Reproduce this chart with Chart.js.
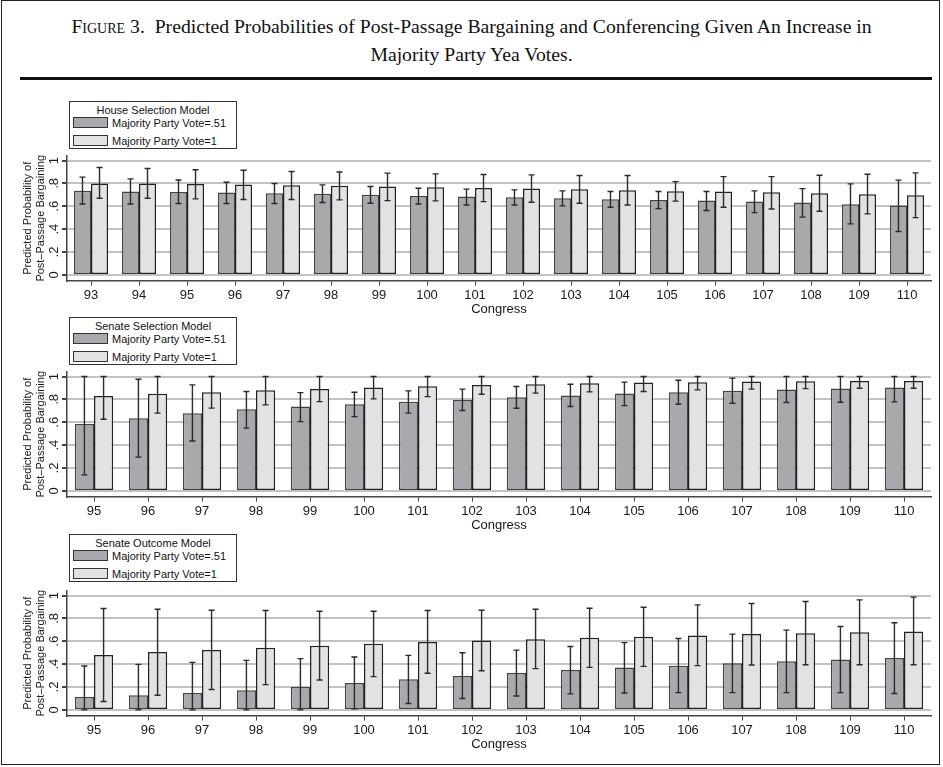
<!DOCTYPE html>
<html>
<head>
<meta charset="utf-8">
<script src="https://cdn.jsdelivr.net/npm/chart.js@4/dist/chart.umd.min.js"></script>
<style>
  html, body { margin: 0; padding: 0; background: #fff; }
  body { width: 943px; height: 767px; position: relative; overflow: hidden; font-family: "Liberation Sans", Arial, sans-serif; }
  .frame { position: absolute; left: 1px; top: 0px; width: 939px; height: 765px; border: 1px solid #222; box-sizing: border-box; }
  .title { position: absolute; left: 0; top: 12px; width: 943px; text-align: center; font-family: "Liberation Serif", "Times New Roman", serif; font-size: 19.7px; line-height: 28px; color: #111; }
  .title .sc { font-variant: small-caps; }
  .rule { position: absolute; left: 20px; top: 77px; width: 912px; height: 3px; background: #111; }
  canvas { position: absolute; left: 0; }
  .legend { position: absolute; left: 69px; width: 168px; height: 48px; border: 1px solid #333; box-sizing: border-box; background: #fff; font-size: 11px; color: #111; z-index: 2; }
  .legend .lt { position: absolute; left: 0; width: 100%; top: 2px; text-align: center; line-height: 13px; }
  .legend .item { position: absolute; left: 3px; height: 13px; line-height: 13px; white-space: nowrap; }
  .legend .sw { display: inline-block; width: 33px; height: 9px; border: 1px solid #333; vertical-align: -1px; margin-right: 4px; }
</style>
</head>
<body>
<div class="frame"></div>
<div class="title"><span class="sc">Figure</span> 3.&nbsp; Predicted Probabilities of Post-Passage Bargaining and Conferencing Given An Increase in<br>Majority Party Yea Votes.</div>
<div class="rule"></div>

<canvas id="house" width="943" height="170" style="top:150px;width:943px;height:170px"></canvas>
<canvas id="senateSel" width="943" height="170" style="top:366px;width:943px;height:170px"></canvas>
<canvas id="senateOut" width="943" height="170" style="top:585px;width:943px;height:170px"></canvas>

<div id="legends"></div>

<script>
// Congress numbers on the x axes
const houseCongresses = ['93','94','95','96','97','98','99','100','101','102','103','104','105','106','107','108','109','110'];
const senateCongresses = ['95','96','97','98','99','100','101','102','103','104','105','106','107','108','109','110'];

// Y axis ticks
const yTickValues = [0, 0.2, 0.4, 0.6, 0.8, 1];
const yTickLabels = ['0', '.2', '.4', '.6', '.8', '1'];

// Series names
const seriesNames = ['Majority Party Vote=.51', 'Majority Party Vote=1'];
const panelTitles = ['House Selection Model', 'Senate Selection Model', 'Senate Outcome Model'];

// House Selection Model: predicted probability with lower/upper bounds
const houseLowProb  = [.737,.730,.725,.720,.715,.709,.700,.690,.685,.680,.671,.662,.656,.650,.641,.633,.618,.606];
const houseLowLo    = [.620,.620,.625,.625,.625,.633,.627,.620,.612,.612,.604,.592,.580,.563,.545,.505,.446,.379];
const houseLowHi    = [.855,.840,.830,.810,.800,.787,.773,.758,.750,.744,.735,.729,.729,.729,.735,.755,.796,.829];
const houseHighProb = [.800,.800,.795,.790,.785,.780,.773,.767,.761,.755,.750,.741,.732,.729,.723,.715,.706,.697];
const houseHighLo   = [.670,.670,.665,.660,.660,.656,.650,.647,.641,.636,.627,.612,.645,.592,.577,.557,.534,.501];
const houseHighHi   = [.940,.930,.920,.915,.905,.900,.890,.884,.878,.875,.869,.869,.816,.860,.860,.872,.881,.892];

// Senate Selection Model
const selLowProb  = [.586,.636,.680,.715,.738,.758,.779,.796,.820,.834,.851,.863,.875,.886,.895,.904];
const selLowLo    = [.140,.295,.437,.549,.606,.650,.680,.703,.723,.738,.746,.758,.767,.773,.776,.779];
const selLowHi    = [1.00,.977,.927,.869,.860,.863,.875,.890,.913,.933,.951,.968,.986,1.00,1.00,1.00];
const selHighProb = [.831,.849,.863,.881,.892,.904,.915,.927,.933,.942,.948,.951,.956,.959,.962,.962];
const selHighLo   = [.627,.680,.724,.752,.781,.805,.825,.846,.855,.866,.869,.884,.890,.895,.898,.898];
const selHighHi   = [1.00,1.00,1.00,1.00,1.00,1.00,1.00,1.00,1.00,1.00,1.00,1.00,1.00,1.00,1.00,1.00];

// Senate Outcome Model
const outLowProb  = [.113,.128,.148,.172,.201,.235,.268,.297,.323,.349,.370,.387,.407,.425,.440,.453];
const outLowLo    = [0,0,0,0,0,.009,.056,.099,.122,.140,.148,.151,.151,.151,.151,.143];
const outLowHi    = [.384,.398,.416,.433,.448,.462,.477,.500,.523,.555,.588,.625,.663,.698,.730,.762];
const outHighProb = [.480,.506,.523,.544,.561,.579,.593,.608,.619,.631,.640,.651,.663,.671,.680,.686];
const outHighLo   = [.073,.128,.178,.221,.262,.291,.320,.343,.361,.372,.381,.387,.392,.395,.395,.395];
const outHighHi   = [.887,.881,.872,.869,.863,.863,.869,.872,.881,.889,.898,.919,.930,.948,.962,.986];

const DARK_FILL = '#a8a9ac';
const LIGHT_FILL = '#e1e2e4';
const SANS = '"Liberation Sans", Arial, sans-serif';

Chart.defaults.font.family = SANS;
Chart.defaults.color = '#1a1a1a';

// Draws confidence intervals over each bar using the y scale
const errorBars = {
  id: 'errorBars',
  afterDatasetsDraw(chart) {
    const ctx = chart.ctx;
    const y = chart.scales.y;
    chart.data.datasets.forEach((ds, di) => {
      const meta = chart.getDatasetMeta(di);
      meta.data.forEach((bar, i) => {
        const x = bar.x;
        const yl = y.getPixelForValue(ds.errLo[i]);
        const yh = y.getPixelForValue(ds.errHi[i]);
        ctx.save();
        ctx.strokeStyle = '#2a2a2a';
        ctx.lineWidth = 1.4;
        ctx.beginPath();
        ctx.moveTo(x, yl); ctx.lineTo(x, yh);
        ctx.moveTo(x - 3, yl); ctx.lineTo(x + 3, yl);
        ctx.moveTo(x - 3, yh); ctx.lineTo(x + 3, yh);
        ctx.stroke();
        ctx.restore();
      });
    });
  }
};

function makePanel(id, labels, lowProb, lowLo, lowHi, highProb, highLo, highHi) {
  new Chart(document.getElementById(id), {
    type: 'bar',
    data: {
      labels: labels,
      datasets: [
        { label: seriesNames[0], data: lowProb, errLo: lowLo, errHi: lowHi,
          backgroundColor: DARK_FILL, borderColor: '#444', borderWidth: 1.5, borderSkipped: false },
        { label: seriesNames[1], data: highProb, errLo: highLo, errHi: highHi,
          backgroundColor: LIGHT_FILL, borderColor: '#222', borderWidth: 1.5, borderSkipped: false }
      ]
    },
    options: {
      responsive: false,
      animation: false,
      devicePixelRatio: 1,
      layout: { padding: { top: 6, right: 12, left: 0, bottom: 0 } },
      datasets: { bar: { categoryPercentage: 0.71, barPercentage: 1 } },
      plugins: { legend: { display: false }, tooltip: { enabled: false } },
      scales: {
        x: {
          grid: { display: true, drawOnChartArea: false, drawTicks: true, tickLength: 5, tickColor: '#444', offset: false },
          border: { color: '#444', width: 1.5 },
          ticks: { font: { size: 13 }, color: '#1a1a1a', padding: 2, maxRotation: 0, autoSkip: false },
          title: { display: true, text: 'Congress', font: { size: 13 }, color: '#1a1a1a', padding: { top: 0, bottom: 3 } },
          afterFit: s => { s.height = 39.4; s.paddingLeft = 0; s.paddingRight = 0; }
        },
        y: {
          min: -0.05,
          max: 1.04,
          afterBuildTicks: s => { s.ticks = yTickValues.map(v => ({ value: v })); },
          grid: { color: '#c2c2c2', lineWidth: 2, tickColor: '#444', tickLength: 5 },
          border: { color: '#444', width: 1.5 },
          ticks: { minRotation: 90, maxRotation: 90, crossAlign: 'center', padding: 2,
                   font: { size: 13 }, color: '#1a1a1a',
                   callback: (v, i) => yTickLabels[i] },
          title: { display: true, text: ['Predicted Probability of', 'Post\u2013Passage Bargaining'],
                   font: { size: 11, lineHeight: 1.23 }, color: '#1a1a1a', padding: { top: 21, bottom: 0 } },
          afterFit: s => { s.width = 67; s.paddingTop = 0; s.paddingBottom = 0; }
        }
      }
    },
    plugins: [errorBars]
  });
}

makePanel('house', houseCongresses, houseLowProb, houseLowLo, houseLowHi, houseHighProb, houseHighLo, houseHighHi);
makePanel('senateSel', senateCongresses, selLowProb, selLowLo, selLowHi, selHighProb, selHighLo, selHighHi);
makePanel('senateOut', senateCongresses, outLowProb, outLowLo, outLowHi, outHighProb, outHighLo, outHighHi);

// Legend boxes above each panel
const legendTops = [101, 317, 534];
const legendHost = document.getElementById('legends');
panelTitles.forEach((t, k) => {
  const box = document.createElement('div');
  box.className = 'legend';
  box.style.top = legendTops[k] + 'px';
  box.innerHTML =
    '<div class="lt">' + t + '</div>' +
    '<div class="item" style="top:15px"><span class="sw" style="background:' + DARK_FILL + '"></span>' + seriesNames[0] + '</div>' +
    '<div class="item" style="top:33px"><span class="sw" style="background:' + LIGHT_FILL + '"></span>' + seriesNames[1] + '</div>';
  legendHost.appendChild(box);
});
</script>
</body>
</html>
